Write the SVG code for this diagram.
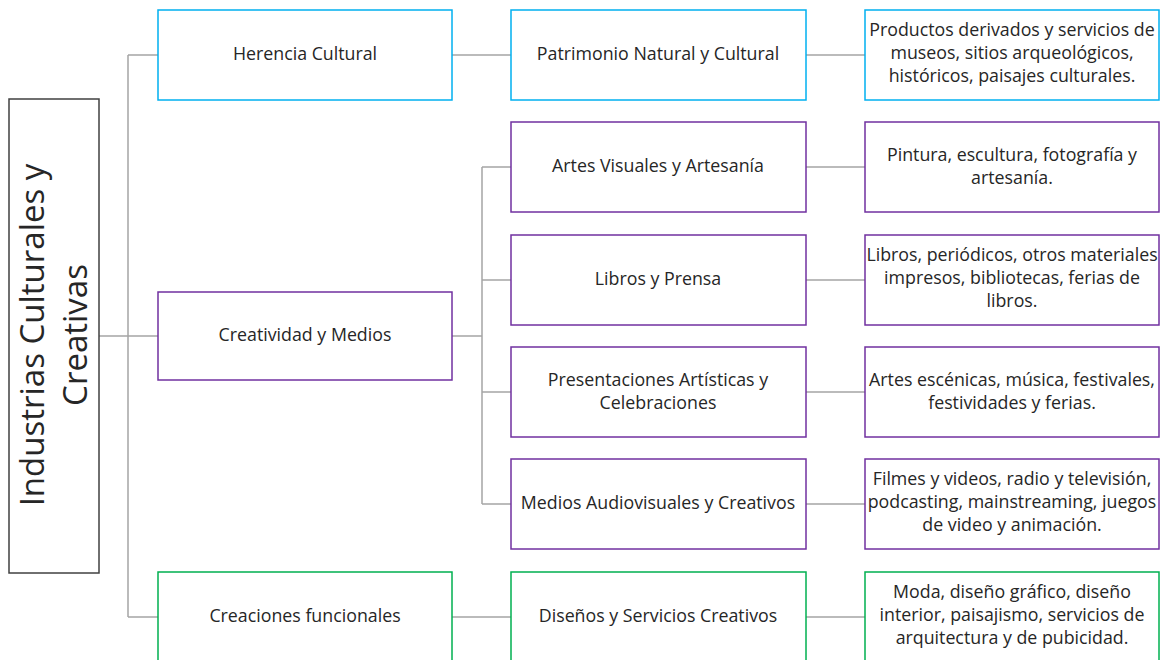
<svg xmlns="http://www.w3.org/2000/svg" width="1164" height="660" viewBox="0 0 1164 660">
<style>
.bx{fill:#fff;stroke-width:1.5}
.root{stroke:#404040}
.cy{stroke:#00B0F0}
.pu{stroke:#7030A0}
.gr{stroke:#00B050}
.t{font-family:"Open Sans","Liberation Sans",sans-serif;font-size:17.8px;fill:#262626;text-anchor:middle}
.rt{font-family:"Open Sans","Liberation Sans",sans-serif;font-size:33px;fill:#262626;text-anchor:middle}
.cn{fill:none;stroke:#A5A5A5;stroke-width:1.5}
</style>
<rect width="1164" height="660" fill="#fff"/>
<g id="connectors">
<path class="cn" d="M99,336H128M128,55V617M128,55H158M128,336H158M128,617H158"/>
<path class="cn" d="M452,55H511M452,336H482M482,167V504M482,167H511M482,280H511M482,392H511M482,504H511M452,617H511"/>
<path class="cn" d="M806,55H865M806,167H865M806,280H865M806,392H865M806,504H865M806,617H865"/>
</g>
<g id="root">
<rect class="bx root" x="9" y="99" width="90" height="474"/>
<text class="rt" transform="translate(44,335) rotate(-90)">Industrias Culturales y</text>
<text class="rt" transform="translate(87,335) rotate(-90)">Creativas</text>
</g>
<g id="herencia">
<rect class="bx cy" x="158" y="10" width="294" height="90"/>
<text class="t" x="305" y="60">Herencia Cultural</text>
</g>
<g id="creatividad">
<rect class="bx pu" x="158" y="292" width="294" height="88"/>
<text class="t" x="305" y="341">Creatividad y Medios</text>
</g>
<g id="creaciones">
<rect class="bx gr" x="158" y="572" width="294" height="90"/>
<text class="t" x="305" y="622">Creaciones funcionales</text>
</g>
<g id="patrimonio">
<rect class="bx cy" x="511" y="10" width="295" height="90"/>
<text class="t" x="658" y="60">Patrimonio Natural y Cultural</text>
</g>
<g id="artes">
<rect class="bx pu" x="511" y="122" width="295" height="90"/>
<text class="t" x="658" y="172">Artes Visuales y Artesanía</text>
</g>
<g id="libros">
<rect class="bx pu" x="511" y="235" width="295" height="90"/>
<text class="t" x="658" y="285">Libros y Prensa</text>
</g>
<g id="presentaciones">
<rect class="bx pu" x="511" y="347" width="295" height="90"/>
<text class="t" x="658" y="386">Presentaciones Artísticas y</text>
<text class="t" x="658" y="409">Celebraciones</text>
</g>
<g id="medios">
<rect class="bx pu" x="511" y="459" width="295" height="90"/>
<text class="t" x="658" y="509">Medios Audiovisuales y Creativos</text>
</g>
<g id="disenos">
<rect class="bx gr" x="511" y="572" width="295" height="90"/>
<text class="t" x="658" y="622">Diseños y Servicios Creativos</text>
</g>
<g id="d-patrimonio">
<rect class="bx cy" x="865" y="10" width="294" height="90"/>
<text class="t" x="1012" y="36">Productos derivados y servicios de</text>
<text class="t" x="1012" y="59">museos, sitios arqueológicos,</text>
<text class="t" x="1012" y="82">históricos, paisajes culturales.</text>
</g>
<g id="d-artes">
<rect class="bx pu" x="865" y="122" width="294" height="90"/>
<text class="t" x="1012" y="161">Pintura, escultura, fotografía y</text>
<text class="t" x="1012" y="184">artesanía.</text>
</g>
<g id="d-libros">
<rect class="bx pu" x="865" y="235" width="294" height="90"/>
<text class="t" x="1012" y="261">Libros, periódicos, otros materiales</text>
<text class="t" x="1012" y="284">impresos, bibliotecas, ferias de</text>
<text class="t" x="1012" y="307">libros.</text>
</g>
<g id="d-presentaciones">
<rect class="bx pu" x="865" y="347" width="294" height="90"/>
<text class="t" x="1012" y="386">Artes escénicas, música, festivales,</text>
<text class="t" x="1012" y="409">festividades y ferias.</text>
</g>
<g id="d-medios">
<rect class="bx pu" x="865" y="459" width="294" height="90"/>
<text class="t" x="1012" y="485">Filmes y videos, radio y televisión,</text>
<text class="t" x="1012" y="508">podcasting, mainstreaming, juegos</text>
<text class="t" x="1012" y="531">de video y animación.</text>
</g>
<g id="d-disenos">
<rect class="bx gr" x="865" y="572" width="294" height="90"/>
<text class="t" x="1012" y="598">Moda, diseño gráfico, diseño</text>
<text class="t" x="1012" y="621">interior, paisajismo, servicios de</text>
<text class="t" x="1012" y="644">arquitectura y de pubicidad.</text>
</g>
</svg>
